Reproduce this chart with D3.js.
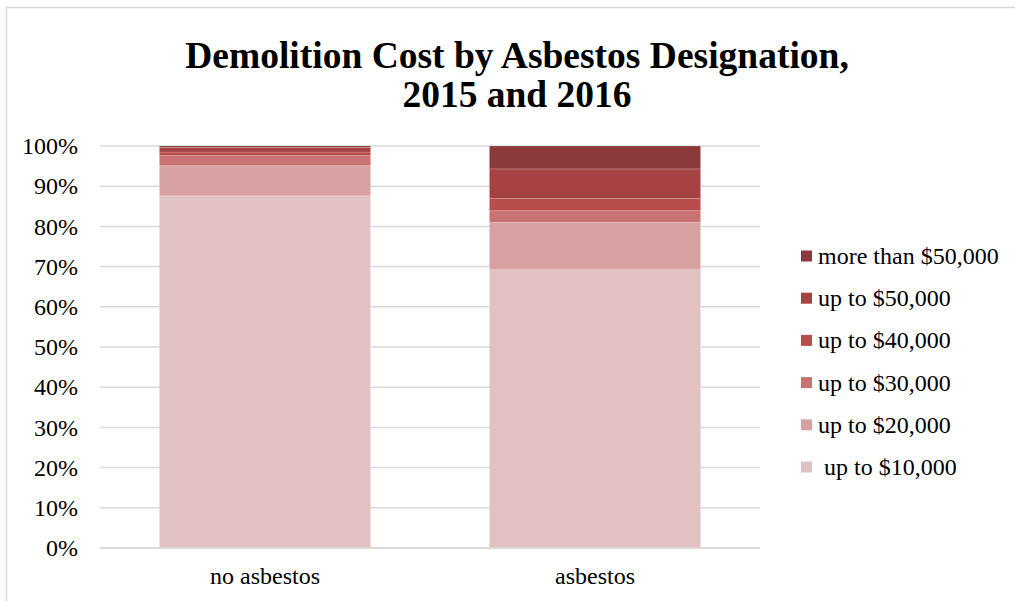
<!DOCTYPE html>
<html>
<head>
<meta charset="utf-8">
<script src="https://cdn.jsdelivr.net/npm/d3@7/dist/d3.min.js"></script>
<style>
  html, body { margin: 0; padding: 0; background: #ffffff; }
  svg { display: block; }
  text { font-family: "Liberation Serif", "Times New Roman", serif; fill: #000; }
</style>
</head>
<body>
<svg id="chart" width="1015" height="601"></svg>
<script>
// Categories along the x axis
const categories = ["no asbestos", "asbestos"];

// Cost bands, bottom of the stack first
const seriesNames = ["up to $10,000", "up to $20,000", "up to $30,000", "up to $40,000", "up to $50,000", "more than $50,000"];
const legendLabels = [" up to $10,000", "up to $20,000", "up to $30,000", "up to $40,000", "up to $50,000", "more than $50,000"];
const seriesColors = ["#e2c1c3", "#d8a1a1", "#c87271", "#b84d4b", "#a44342", "#8b3939"];

// Share of demolitions (%) per cost band, one value per category
const upTo10k = [87.6, 69.2];
const upTo20k = [7.5, 11.8];
const upTo30k = [2.5, 2.9];
const upTo40k = [0.9, 3.0];
const upTo50k = [1.1, 7.4];
const moreThan50k = [0.4, 5.7];

const yTicks = [0, 10, 20, 30, 40, 50, 60, 70, 80, 90, 100];

const seriesValues = [upTo10k, upTo20k, upTo30k, upTo40k, upTo50k, moreThan50k];
const rows = categories.map((c, i) => {
  const r = { category: c };
  seriesNames.forEach((s, k) => { r[s] = seriesValues[k][i]; });
  return r;
});

const svg = d3.select("#chart");

// Outer frame
svg.append("rect")
  .attr("x", 6.5).attr("y", 7.5)
  .attr("width", 1030).attr("height", 620)
  .attr("fill", "none").attr("stroke", "#d9d9d9").attr("stroke-width", 1.5);

// Title
const title = svg.append("text")
  .attr("text-anchor", "middle")
  .attr("font-weight", "bold")
  .attr("font-size", 37.5);
title.append("tspan").attr("x", 517).attr("y", 68).text("Demolition Cost by Asbestos Designation,");
title.append("tspan").attr("x", 517).attr("y", 107).text("2015 and 2016");

const plot = { left: 100, right: 760, top: 146, bottom: 548 };

const x = d3.scaleBand()
  .domain(categories)
  .range([plot.left, plot.right])
  .paddingInner(0.36)
  .paddingOuter(0.18);

const y = d3.scaleLinear()
  .domain([0, 100])
  .range([plot.bottom, plot.top]);

// Horizontal gridlines
svg.append("g")
  .selectAll("line")
  .data(yTicks)
  .join("line")
  .attr("x1", plot.left).attr("x2", plot.right)
  .attr("y1", d => y(d)).attr("y2", d => y(d))
  .attr("stroke", "#d9d9d9").attr("stroke-width", 1.5);

// Y axis labels
const yAxis = svg.append("g")
  .attr("transform", `translate(${plot.left},0)`)
  .call(d3.axisLeft(y).tickValues(yTicks).tickFormat(d => d + "%").tickSize(0).tickPadding(22));
yAxis.select(".domain").remove();
yAxis.selectAll("text")
  .attr("font-family", "Liberation Serif, Times New Roman, serif")
  .attr("font-size", 24).attr("fill", "#000");

// Stacked bars
const stack = d3.stack().keys(seriesNames);
const layers = stack(rows);

svg.append("g")
  .selectAll("g")
  .data(layers)
  .join("g")
  .attr("fill", (d, i) => seriesColors[i])
  .selectAll("rect")
  .data(d => d)
  .join("rect")
  .attr("x", d => x(d.data.category))
  .attr("width", x.bandwidth())
  .attr("y", d => y(d[1]))
  .attr("height", d => y(d[0]) - y(d[1]))
  .attr("stroke", "#ffffff").attr("stroke-opacity", 0.25).attr("stroke-width", 0.75);

// Baseline
svg.append("line")
  .attr("x1", plot.left).attr("x2", plot.right)
  .attr("y1", y(0)).attr("y2", y(0))
  .attr("stroke", "#d9d9d9").attr("stroke-width", 1.5);

// X axis labels
const xAxis = svg.append("g")
  .attr("transform", `translate(0,${plot.bottom})`)
  .call(d3.axisBottom(x).tickSize(0).tickPadding(19));
xAxis.select(".domain").remove();
xAxis.selectAll("text")
  .attr("font-family", "Liberation Serif, Times New Roman, serif")
  .attr("font-size", 24).attr("fill", "#000");

// Legend, top entry is the most expensive band
const legendOrder = d3.range(seriesNames.length).reverse();
const legend = svg.append("g")
  .selectAll("g")
  .data(legendOrder)
  .join("g")
  .attr("transform", (d, i) => `translate(801,${256 + i * 42.2})`);
legend.append("rect")
  .attr("x", 0).attr("y", -5.5)
  .attr("width", 11).attr("height", 11)
  .attr("fill", d => seriesColors[d]);
legend.append("text")
  .attr("x", 17).attr("y", 0)
  .attr("dy", "0.33em")
  .attr("font-size", 24)
  .attr("xml:space", "preserve")
  .style("white-space", "pre")
  .text(d => legendLabels[d]);
</script>
</body>
</html>
